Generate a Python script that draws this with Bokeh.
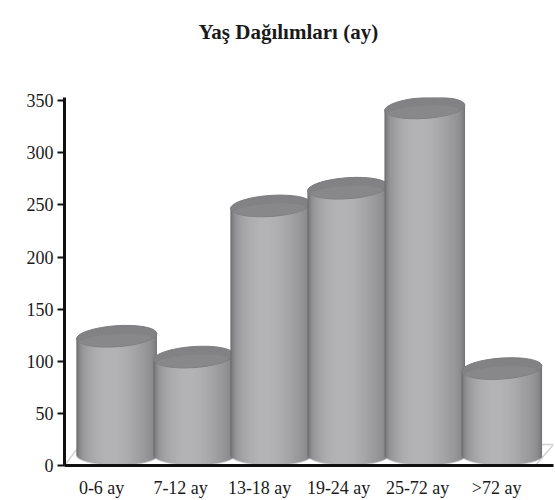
import numpy as np
from bokeh.plotting import figure
from bokeh.models import ColumnDataSource, FixedTicker, Range1d, Title
from bokeh.embed import file_html
from bokeh.resources import INLINE

# Age groups (months) and number of children in each group
categories = ["0-6 ay", "7-12 ay", "13-18 ay", "19-24 ay", "25-72 ay", ">72 ay"]
counts = [124, 104, 249, 266, 343, 93]
y_ticks = [0, 50, 100, 150, 200, 250, 300, 350]
title_text = "Yaş Dağılımları (ay)"

SERIF = "Liberation Serif"

# plot geometry
W, H = 555, 500
X_START, X_END = -0.47, 5.72
Y_START, Y_END = 0, 353
BORDER_L, BORDER_R, BORDER_T, BORDER_B = 64, 2, 97, 35
FRAME_W = W - BORDER_L - BORDER_R
FRAME_H = H - BORDER_T - BORDER_B
PX_X = FRAME_W / (X_END - X_START)   # pixels per x unit
PX_Y = FRAME_H / (Y_END - Y_START)   # pixels per y unit

# cylinder look
BAR_W = 1.02          # cylinder diameter in x units
BAR_STEP = 0.975      # perspective: cylinders sit slightly right of their labels
BAR_SHIFT = 0.19
CAP_H = 21 / PX_Y     # height of the elliptical caps in y units
TILT = 0.07           # rotation of the top cap (radians)

p = figure(width=W, height=H, output_backend="svg", toolbar_location=None,
           x_range=Range1d(X_START, X_END), y_range=Range1d(Y_START, Y_END),
           min_border_left=BORDER_L, min_border_right=BORDER_R,
           min_border_top=BORDER_T, min_border_bottom=BORDER_B)
p.background_fill_color = "white"
p.border_fill_color = "white"
p.outline_line_color = None
p.grid.grid_line_color = None

# empty gap between the frame and the title, then the title itself
p.add_layout(Title(text=" ", text_font_size="10px", standoff=34), "above")
p.add_layout(Title(text=title_text, text_font=SERIF, text_font_size="21px",
                   text_font_style="bold", text_color="#1a1a1a", align="left",
                   vertical_align="top", offset=134, standoff=10), "above")

# faint 3D floor outline
depth_y = 21 / PX_Y
p.line([X_START, X_START + 16 / PX_X, X_END, X_END - 18 / PX_X],
       [0, depth_y, depth_y, 0], line_color="#d2d2d2", line_width=1.5)


def body_image(val):
    """RGBA shading of one cylinder body: rounded base, tilted top edge."""
    nc = int(round(BAR_W * PX_X))
    top_units = val + CAP_H / 2
    nr = int(round(top_units * PX_Y))
    u = (np.arange(nc) + 0.5) / nc - 0.5             # -0.5 .. 0.5 across
    yy = (np.arange(nr) + 0.5)[:, None]               # pixels from the base
    cap_px = CAP_H * PX_Y
    base = cap_px / 2 * (1 - np.sqrt(np.clip(1 - (2 * u) ** 2, 0, 1)))
    top = val * PX_Y + np.tan(TILT) * u * nc
    alpha = np.clip(yy - base[None, :] + 0.5, 0, 1) * np.clip(top[None, :] - yy + 0.5, 0, 1)
    t = u + 0.5
    g = 136 + 44 * np.sin(np.pi * np.clip(t, 0, 1) ** 0.8)
    g = g - 36 * np.exp(-t / 0.03) - 40 * np.exp(-(1 - t) / 0.03)
    g = np.clip(g, 0, 255)
    img = np.zeros((nr, nc, 4), dtype=np.uint8)
    img[..., 0] = g[None, :]
    img[..., 1] = g[None, :]
    img[..., 2] = np.clip(g + 2, 0, 255)[None, :]
    img[..., 3] = (alpha * 255).astype(np.uint8)
    return img.view(dtype=np.uint32).reshape(nr, nc), top_units


for i, val in enumerate(counts):
    xc = i * BAR_STEP + BAR_SHIFT
    img, dh = body_image(val)
    p.image_rgba(image=[img], x=xc - BAR_W / 2, y=0, dw=BAR_W, dh=dh)
    cap = ColumnDataSource(dict(x=[xc], y=[val]))
    p.ellipse(x="x", y="y", width=BAR_W, height=CAP_H, angle=TILT,
              fill_color="#828284", line_color="#7c7c7e", line_width=1, source=cap)
    glow = ColumnDataSource(dict(x=[xc - 0.02], y=[val - CAP_H * 0.2]))
    p.ellipse(x="x", y="y", width=BAR_W * 0.9, height=CAP_H * 0.6, angle=TILT,
              fill_color="#9c9c9e", fill_alpha=0.25, line_color=None, source=glow)

# axes
p.yaxis.ticker = FixedTicker(ticks=y_ticks)
p.yaxis.axis_line_width = 3
p.yaxis.axis_line_color = "#111111"
p.yaxis.major_tick_line_width = 2
p.yaxis.major_tick_line_color = "#111111"
p.yaxis.major_tick_out = 7
p.yaxis.major_tick_in = 0
p.yaxis.minor_tick_line_color = None
p.yaxis.major_label_standoff = 4
p.yaxis.major_label_text_font = SERIF
p.yaxis.major_label_text_font_size = "18px"
p.yaxis.major_label_text_color = "#1a1a1a"

p.xaxis.ticker = FixedTicker(ticks=list(range(len(categories))))
p.xaxis.major_label_overrides = {i: c for i, c in enumerate(categories)}
p.xaxis.axis_line_width = 3
p.xaxis.axis_line_color = "#111111"
p.xaxis.major_tick_line_color = None
p.xaxis.major_tick_out = 0
p.xaxis.minor_tick_line_color = None
p.xaxis.major_label_standoff = 12
p.xaxis.major_label_text_line_height = 1.0
p.xaxis.major_label_text_font = SERIF
p.xaxis.major_label_text_font_size = "18px"
p.xaxis.major_label_text_color = "#1a1a1a"

open("out.html", "w").write(file_html(p, INLINE))
